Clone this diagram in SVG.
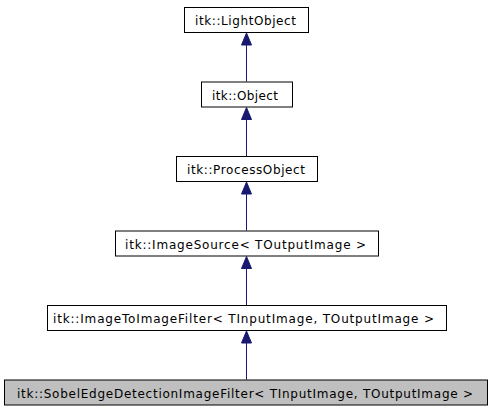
<svg xmlns="http://www.w3.org/2000/svg" width="493" height="411" viewBox="0 0 493 411">
<style>
.box{fill:#ffffff;stroke:#000000;stroke-width:1}
.cur{fill:#bfbfbf;stroke:#000000;stroke-width:1}
.lbl{font-family:"DejaVu Sans",sans-serif;font-size:12px;fill:#000000}
.edge{stroke:#191970;stroke-width:1;fill:none}
.head{fill:#191970;stroke:#191970;stroke-width:1}
</style>
<rect x="0" y="0" width="493" height="411" fill="#ffffff"/>
<g id="connectors">
<line class="edge" x1="246.5" y1="81.5" x2="246.5" y2="45"/>
<polygon class="head" points="246.5,33 241.5,45 251.5,45"/>
<line class="edge" x1="246.5" y1="156" x2="246.5" y2="119.5"/>
<polygon class="head" points="246.5,107.5 241.5,119.5 251.5,119.5"/>
<line class="edge" x1="246.5" y1="230.5" x2="246.5" y2="194"/>
<polygon class="head" points="246.5,182 241.5,194 251.5,194"/>
<line class="edge" x1="246.5" y1="305" x2="246.5" y2="268.5"/>
<polygon class="head" points="246.5,256.5 241.5,268.5 251.5,268.5"/>
<line class="edge" x1="246.5" y1="379.5" x2="246.5" y2="343"/>
<polygon class="head" points="246.5,331 241.5,343 251.5,343"/>
</g>
<g id="node-lightobject">
<rect class="box" x="184.5" y="7.5" width="124" height="25"/>
<text class="lbl" x="195" y="25" textLength="101" lengthAdjust="spacing">itk::LightObject</text>
</g>
<g id="node-object">
<rect class="box" x="201.5" y="82" width="91" height="25"/>
<text class="lbl" x="212" y="99.5" textLength="66" lengthAdjust="spacing">itk::Object</text>
</g>
<g id="node-processobject">
<rect class="box" x="176.5" y="156.5" width="141" height="25"/>
<text class="lbl" x="187" y="174" textLength="118" lengthAdjust="spacing">itk::ProcessObject</text>
</g>
<g id="node-imagesource">
<rect class="box" x="115.5" y="231" width="263" height="25"/>
<text class="lbl" x="125" y="248.5" textLength="241" lengthAdjust="spacing">itk::ImageSource&lt; TOutputImage &gt;</text>
</g>
<g id="node-imagetoimagefilter">
<rect class="box" x="47.5" y="305.5" width="399" height="25"/>
<text class="lbl" x="53" y="323" textLength="381" lengthAdjust="spacing">itk::ImageToImageFilter&lt; TInputImage, TOutputImage &gt;</text>
</g>
<g id="node-sobel">
<rect class="cur" x="4.5" y="380" width="483" height="25"/>
<text class="lbl" x="17" y="397.5" textLength="456" lengthAdjust="spacing">itk::SobelEdgeDetectionImageFilter&lt; TInputImage, TOutputImage &gt;</text>
</g>
</svg>
